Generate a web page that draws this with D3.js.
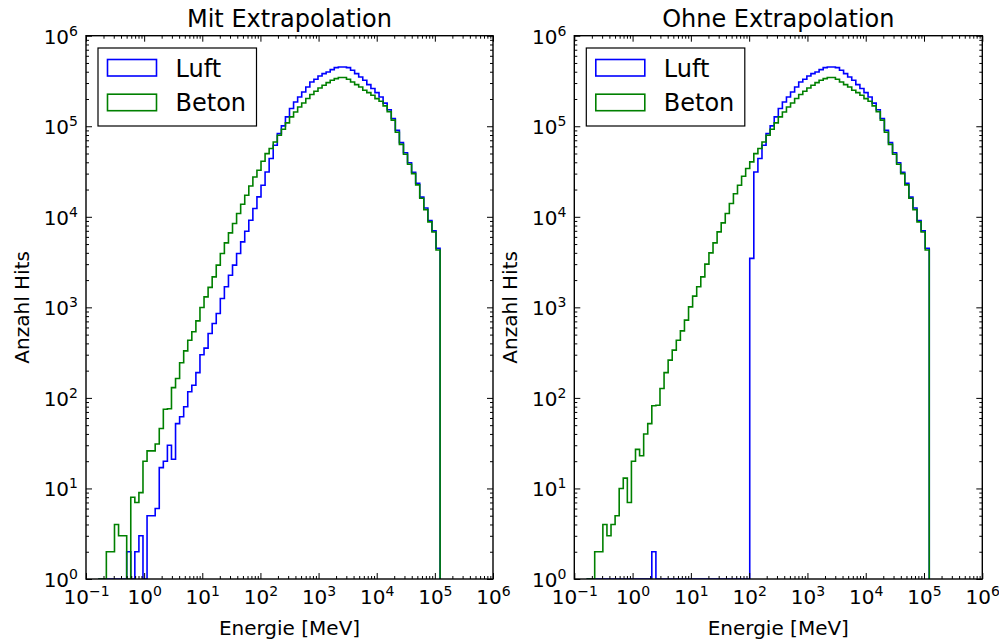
<!DOCTYPE html>
<html>
<head>
<meta charset="utf-8">
<script src="https://cdn.jsdelivr.net/npm/d3@7"></script>
<style>
  body { margin: 0; background: #fff; }
  svg text { font-family: "DejaVu Sans", sans-serif; fill: #000; }
</style>
</head>
<body>
<svg id="chart" width="999" height="644"></svg>
<script>
// Logarithmic binning of the energy axis (like np.logspace): 84 bins, 10^-0.79 ... 10^5.09 MeV
const binLogMin = -0.79;
const binLogMax = 5.09;
const binCount = 84;

// Hit counts per bin, air ("Luft") and concrete ("Beton"), with extrapolation
const luftMit = [
  0, 0, 0, 0, 0, 0, 0, 2, 0, 2,
  3, 0, 5, 5, 6, 17, 20, 30, 21, 52,
  62, 80, 117, 138, 190, 300, 355, 515, 664, 855,
  1254, 1686, 2265, 2925, 3935, 5280, 6935, 9170, 12340, 16600,
  22300, 31300, 44000, 61700, 83000, 101000, 127000, 157000, 185000, 210000,
  239000, 271000, 308000, 330000, 359000, 381000, 397000, 422000, 444000, 452000,
  452000, 444000, 415000, 381000, 350000, 322000, 288000, 261000, 235000, 210000,
  180000, 152000, 122000, 90000, 66000, 51000, 39500, 31000, 23500, 16500,
  12500, 9100, 7000, 4500
];
const betonMit = [
  0, 0, 2, 2, 4, 3, 3, 0, 8, 7,
  9, 20, 26, 26, 31, 46, 75, 76, 130, 164,
  244, 331, 434, 537, 709, 998, 1306, 1660, 2172, 2925,
  3935, 5150, 6640, 8430, 10870, 13770, 17300, 21900, 27560, 32700,
  41100, 49900, 56700, 67100, 79600, 92700, 108900, 126800, 143900, 163300,
  180700, 202300, 224000, 243400, 264700, 283500, 303600, 322000, 336000, 345000,
  345000, 330000, 308000, 288000, 271000, 250000, 235000, 220000, 202000, 189000,
  168000, 145000, 117000, 86000, 63000, 49000, 38000, 30000, 22500, 16000,
  12000, 8800, 6800, 4300
];

// Hit counts per bin without extrapolation
const luftOhne = [
  0, 0, 0, 0, 0, 0, 0, 0, 0, 0,
  0, 0, 0, 0, 0, 0, 2, 0, 0, 0,
  0, 0, 0, 0, 0, 0, 0, 0, 0, 0,
  0, 0, 0, 0, 0, 0, 0, 0, 0, 0,
  3470, 31300, 44000, 61700, 83000, 101000, 127000, 157000, 185000, 210000,
  239000, 271000, 308000, 330000, 359000, 381000, 397000, 422000, 444000, 452000,
  452000, 444000, 415000, 381000, 350000, 322000, 288000, 261000, 235000, 210000,
  180000, 152000, 122000, 90000, 66000, 51000, 39500, 31000, 23500, 16500,
  12500, 9100, 7000, 4500
];
const betonOhne = [
  0, 0, 2, 2, 4, 3, 4, 5, 10, 13,
  7, 20, 27, 23, 40, 52, 82, 83, 127, 190,
  261, 337, 434, 550, 722, 1012, 1330, 1686, 2172, 3000,
  4000, 5150, 6810, 8570, 10870, 14000, 18000, 22300, 28000, 34100,
  40400, 49900, 56700, 67100, 79600, 92700, 108900, 126800, 143900, 163300,
  180700, 202300, 224000, 243400, 264700, 283500, 303600, 322000, 336000, 345000,
  345000, 330000, 308000, 288000, 271000, 250000, 235000, 220000, 202000, 189000,
  168000, 145000, 117000, 86000, 63000, 49000, 38000, 30000, 22500, 16000,
  12000, 8800, 6800, 4300
];

const seriesNames = ["Luft", "Beton"];
const seriesColors = ["#0000ff", "#008000"];
const panelTitles = ["Mit Extrapolation", "Ohne Extrapolation"];
const xAxisLabel = "Energie [MeV]";
const yAxisLabel = "Anzahl Hits";
const xTickExponents = [-1, 0, 1, 2, 3, 4, 5, 6];
const yTickExponents = [0, 1, 2, 3, 4, 5, 6];
const minorMultipliers = [2, 3, 4, 5, 6, 7, 8, 9];

const binEdges = d3.range(binCount + 1).map(i =>
  Math.pow(10, binLogMin + (binLogMax - binLogMin) * i / binCount));

const svg = d3.select("#chart");
const plotTop = 35.7, plotBottom = 579;
const panels = [
  { left: 86, right: 493, title: panelTitles[0], series: [luftMit, betonMit] },
  { left: 574.3, right: 982.3, title: panelTitles[1], series: [luftOhne, betonOhne] }
];

const pow10 = e => Math.pow(10, e);
const expText = d => {
  const e = Math.round(Math.log10(d));
  return e < 0 ? "\u2212" + (-e) : String(e);
};
const minorsOf = exps => d3.merge(exps.slice(0, -1).map(e => minorMultipliers.map(m => m * pow10(e))));

function stepPath(counts, x, y) {
  const yv = c => c > 0 ? y(c) : plotBottom;
  const p = d3.path();
  p.moveTo(x(binEdges[0]), plotBottom);
  counts.forEach((c, i) => {
    p.lineTo(x(binEdges[i]), yv(c));
    p.lineTo(x(binEdges[i + 1]), yv(c));
  });
  p.lineTo(x(binEdges[counts.length]), plotBottom);
  return p.toString();
}

function styleAxis(sel) {
  sel.select(".domain").remove();
  sel.selectAll(".tick line").attr("stroke", "#000").attr("stroke-width", 1);
  sel.attr("font-family", "DejaVu Sans, sans-serif").attr("font-size", 20);
}

function powerLabels(sel) {
  sel.selectAll(".tick text").each(function (d) {
    const t = d3.select(this);
    t.text("");
    t.append("tspan").text("10");
    t.append("tspan").attr("dy", -8).attr("font-size", 14).text(expText(d));
  });
}

panels.forEach((pn, idx) => {
  const x = d3.scaleLog().domain([pow10(-1), pow10(6)]).range([pn.left, pn.right]);
  const y = d3.scaleLog().domain([pow10(0), pow10(6)]).range([plotBottom, plotTop]);
  const g = svg.append("g");

  const clipId = "plotclip" + idx;
  svg.append("clipPath").attr("id", clipId).append("rect")
    .attr("x", pn.left).attr("y", plotTop)
    .attr("width", pn.right - pn.left).attr("height", plotBottom - plotTop);

  // step histograms
  g.append("g").attr("clip-path", `url(#${clipId})`)
    .selectAll("path").data(pn.series).join("path")
    .attr("d", d => stepPath(d, x, y))
    .attr("fill", "none")
    .attr("stroke", (d, i) => seriesColors[i])
    .attr("stroke-width", 1.6)
    .attr("stroke-linejoin", "miter");

  const majorX = xTickExponents.map(pow10), majorY = yTickExponents.map(pow10);
  const minorX = minorsOf(xTickExponents), minorY = minorsOf(yTickExponents);

  // bottom axis
  g.append("g").attr("transform", `translate(0,${plotBottom})`)
    .call(d3.axisBottom(x).tickValues(minorX).tickSize(-3).tickFormat("")).call(styleAxis);
  g.append("g").attr("transform", `translate(0,${plotBottom})`)
    .call(d3.axisBottom(x).tickValues(majorX).tickSize(-6).tickPadding(11).tickFormat(() => "10"))
    .call(styleAxis).call(powerLabels);
  // top axis
  g.append("g").attr("transform", `translate(0,${plotTop})`)
    .call(d3.axisTop(x).tickValues(minorX).tickSize(-3).tickFormat("")).call(styleAxis);
  g.append("g").attr("transform", `translate(0,${plotTop})`)
    .call(d3.axisTop(x).tickValues(majorX).tickSize(-6).tickFormat("")).call(styleAxis);
  // left axis
  g.append("g").attr("transform", `translate(${pn.left},0)`)
    .call(d3.axisLeft(y).tickValues(minorY).tickSize(-3).tickFormat("")).call(styleAxis);
  g.append("g").attr("transform", `translate(${pn.left},0)`)
    .call(d3.axisLeft(y).tickValues(majorY).tickSize(-6).tickPadding(8).tickFormat(() => "10"))
    .call(styleAxis).call(powerLabels)
    .call(s => s.selectAll(".tick text").attr("dy", "0.37em"));
  // right axis
  g.append("g").attr("transform", `translate(${pn.right},0)`)
    .call(d3.axisRight(y).tickValues(minorY).tickSize(-3).tickFormat("")).call(styleAxis);
  g.append("g").attr("transform", `translate(${pn.right},0)`)
    .call(d3.axisRight(y).tickValues(majorY).tickSize(-6).tickFormat("")).call(styleAxis);

  // frame
  g.append("rect")
    .attr("x", pn.left).attr("y", plotTop)
    .attr("width", pn.right - pn.left).attr("height", plotBottom - plotTop)
    .attr("fill", "none").attr("stroke", "#000").attr("stroke-width", 1.4);

  // title and axis labels
  const cx = (pn.left + pn.right) / 2;
  g.append("text").attr("x", cx).attr("y", 27).attr("text-anchor", "middle")
    .attr("font-size", 24).text(pn.title);
  g.append("text").attr("x", cx).attr("y", 635).attr("text-anchor", "middle")
    .attr("font-size", 20).text(xAxisLabel);
  g.append("text")
    .attr("transform", `translate(${pn.left - 57},${(plotTop + plotBottom) / 2}) rotate(-90)`)
    .attr("text-anchor", "middle").attr("font-size", 20).text(yAxisLabel);

  // legend
  const lg = g.append("g").attr("transform", `translate(${pn.left + 12},48)`);
  lg.append("rect").attr("x", 0).attr("y", 0).attr("width", 158.5).attr("height", 78)
    .attr("fill", "#fff").attr("stroke", "#000").attr("stroke-width", 1.2);
  seriesNames.forEach((name, i) => {
    lg.append("rect").attr("x", 9.5).attr("y", 11.5 + i * 34.7)
      .attr("width", 49).attr("height", 16.5)
      .attr("fill", "none").attr("stroke", seriesColors[i]).attr("stroke-width", 1.6);
    lg.append("text").attr("x", 77.5).attr("y", 28.5 + i * 34.7)
      .attr("font-size", 24).text(name);
  });
});
</script>
</body>
</html>
